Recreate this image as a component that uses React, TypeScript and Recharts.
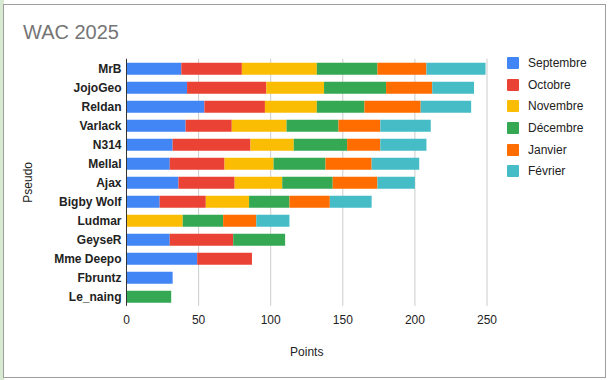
import { Bar, BarChart, CartesianGrid, XAxis, YAxis } from "recharts";

const players = [
  "MrB",
  "JojoGeo",
  "Reldan",
  "Varlack",
  "N314",
  "Mellal",
  "Ajax",
  "Bigby Wolf",
  "Ludmar",
  "GeyseR",
  "Mme Deepo",
  "Fbruntz",
  "Le_naing"
];

const septembre = [38, 42, 54, 41, 32, 30, 36, 23, 0, 30, 49, 32, 0];
const octobre = [42, 55, 42, 32, 54, 38, 39, 32, 0, 44, 38, 0, 0];
const novembre = [52, 40, 36, 38, 30, 34, 33, 30, 39, 0, 0, 0, 0];
const decembre = [42, 43, 33, 36, 37, 36, 35, 28, 28, 36, 0, 0, 31];
const janvier = [34, 32, 39, 29, 23, 32, 31, 28, 23, 0, 0, 0, 0];
const fevrier = [41, 29, 35, 35, 32, 33, 26, 29, 23, 0, 0, 0, 0];

const xTicks = [0, 50, 100, 150, 200, 250];

const SERIES = [
  { key: "sep", label: "Septembre", values: septembre, color: "#4285f4" },
  { key: "oct", label: "Octobre", values: octobre, color: "#ea4335" },
  { key: "nov", label: "Novembre", values: novembre, color: "#fbbc04" },
  { key: "dec", label: "Décembre", values: decembre, color: "#34a853" },
  { key: "jan", label: "Janvier", values: janvier, color: "#ff6d01" },
  { key: "feb", label: "Février", values: fevrier, color: "#46bdc6" }
];

const FONT = "Arial, 'Liberation Sans', sans-serif";

export default function App() {
  const data = players.map((name, i) => {
    const row: Record<string, string | number> = { name };
    SERIES.forEach((s) => {
      row[s.key] = s.values[i];
    });
    return row;
  });

  return (
    <div
      style={{
        position: "fixed",
        left: 0,
        top: 0,
        width: 609,
        height: 380,
        background: "#ffffff",
        fontFamily: FONT,
        overflow: "hidden"
      }}
    >
      <div style={{ position: "absolute", left: 0, top: 0, width: 4, height: 380, background: "#d9ead3" }} />
      <div
        style={{
          position: "absolute",
          left: 3,
          top: 4,
          width: 601,
          height: 372,
          border: "1px solid #9e9e9e",
          background: "#fff"
        }}
      />
      <div
        style={{
          position: "absolute",
          left: 23,
          top: 20,
          fontSize: 20,
          color: "#757575",
          lineHeight: "24px"
        }}
      >
        WAC 2025
      </div>

      <div style={{ position: "absolute", left: 0, top: 0 }}>
        <BarChart
          width={609}
          height={380}
          data={data}
          layout="vertical"
          margin={{ top: 58.8, right: 122, bottom: 14.2, left: 20 }}
        >
          <CartesianGrid horizontal={false} stroke="#cccccc" />
          <XAxis
            type="number"
            domain={[0, 250]}
            ticks={xTicks}
            axisLine={false}
            tickLine={false}
            tickSize={0}
            tickMargin={10}
            height={60}
            tick={{ fill: "#222", fontSize: 12, fontFamily: FONT }}
            label={{
              value: "Points",
              position: "insideBottom",
              offset: 10,
              fill: "#222",
              fontSize: 12,
              fontFamily: FONT
            }}
          />
          <YAxis
            type="category"
            dataKey="name"
            width={106.5}
            interval={0}
            axisLine={{ stroke: "#333333" }}
            tickLine={false}
            tickSize={0}
            tickMargin={5}
            tick={{ fill: "#222", fontSize: 12, fontWeight: "bold", fontFamily: FONT }}
            label={{
              value: "Pseudo",
              angle: -90,
              position: "insideLeft",
              offset: 8,
              fill: "#222",
              fontSize: 12,
              fontFamily: FONT,
              style: { textAnchor: "middle" }
            }}
          />
          {SERIES.map((s) => (
            <Bar
              key={s.key}
              dataKey={s.key}
              name={s.label}
              stackId="a"
              fill={s.color}
              barSize={12}
              isAnimationActive={false}
            />
          ))}
        </BarChart>
      </div>

      <div style={{ position: "absolute", left: 507, top: 52 }}>
        {SERIES.map((s) => (
          <div key={s.key} style={{ display: "flex", alignItems: "center", height: 21.7 }}>
            <span style={{ width: 12, height: 12, background: s.color, display: "inline-block", borderRadius: 1 }} />
            <span style={{ marginLeft: 9, fontSize: 12, color: "#222" }}>{s.label}</span>
          </div>
        ))}
      </div>
    </div>
  );
}
